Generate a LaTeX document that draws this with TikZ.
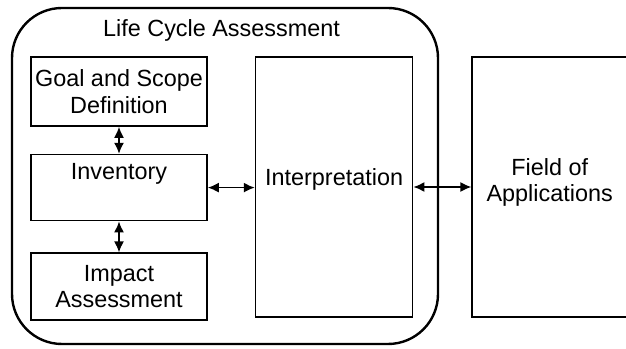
\documentclass[tikz,border=0pt]{standalone}
\usepackage{fontspec}
\setmainfont{Liberation Sans}
\usetikzlibrary{positioning, arrows.meta}

\begin{document}
\begin{tikzpicture}[x = 1pt, y = 1pt,
                > = {Latex[length=11pt, width=10pt]}, % arrow head style
                node distance = 27pt, % gap between boxes
                font = \fontsize{23.4}{26.5}\selectfont
            ]

            \tikzset{stage/.style = {draw = black, line width = 1.6pt,
            align = center, inner sep = 0pt, minimum width = 176pt},
            wide/.style = {stage, minimum width = 157pt, minimum height = 260pt}}

            \useasboundingbox (0,0) rectangle (626,348);

            % outer frame with its title
            \node (lca) [draw = black, line width = 2.4pt, rounded corners = 50pt,
            minimum width = 426pt, minimum height = 336pt] at (225,172) {};
            \node (title) [inner sep = 0pt, below = 13pt of lca.north,
            xshift = -3.5pt] {Life Cycle Assessment};

            \node (goal) [stage, minimum height = 69pt] at (119,256.5)
            {Goal and Scope\\Definition};
            \node (inv) [stage, minimum height = 66pt, below = of goal]
            {Inventory\\[6pt]\mbox{}};
            \node (impact) [stage, minimum height = 67pt, below = 31pt of inv]
            {Impact\\Assessment};
            \node (interp) [wide, right = 47pt of goal.north east,
            anchor = north west] {Interpretation\\[-7pt]\mbox{}};
            \node (field) [wide, minimum width = 155pt, right = 58pt of interp]
            {Field of\\Applications\\[-13pt]\mbox{}};

            \path[<->, line width = 1.6pt] (goal) edge (inv); \path[<->,
            line width = 1.6pt] (inv) edge (impact); \path[<->, line width =
            1.6pt] (inv.east) edge (inv.east -| interp.west); \path[<->, line
            width = 1.6pt] (interp) edge (field); \end{tikzpicture}
\end{document}
